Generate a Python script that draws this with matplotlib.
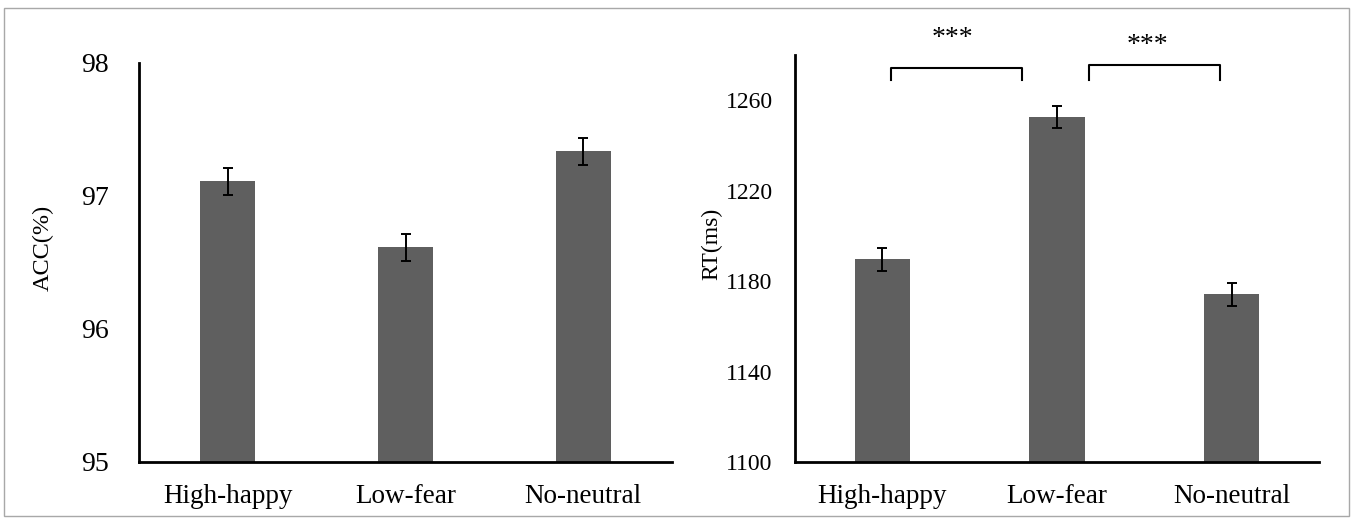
import matplotlib
matplotlib.use("Agg")
import matplotlib.pyplot as plt
from matplotlib.patches import Rectangle

plt.rcParams['font.family'] = ['Liberation Serif', 'DejaVu Serif']

conditions = ['High-happy', 'Low-fear', 'No-neutral']

acc_mean = [97.11, 96.615, 97.335]
acc_err = [0.10, 0.10, 0.10]

rt_mean = [1189.7, 1252.6, 1174.1]
rt_err = [5.1, 5.0, 5.1]

# significance brackets on the RT panel: (x_start, x_end, y_top, y_leg, star_x, star_y)
sig_pairs = [(0.05, 0.80, 1274.1, 1268.8, 0.40, 1287.5),
             (1.185, 1.935, 1275.5, 1268.8, 1.52, 1284.0)]
sig_label = '***'

BAR_COLOR = '#5f5f5f'
W, H = 1353, 519

fig = plt.figure(figsize=(W / 100, H / 100), dpi=100)

# thin grey frame around the whole figure
fig.patches.append(Rectangle((4 / W, 1 - 516 / H), 1345 / W, 508 / H,
                             transform=fig.transFigure, fill=False,
                             edgecolor='#a8a8a8', linewidth=1.0))


def px_axes(x0, y0, x1, y1):
    """Add an axes given pixel box (left, top, right, bottom)."""
    return fig.add_axes([x0 / W, 1 - y1 / H, (x1 - x0) / W, (y1 - y0) / H])


def style(ax, ypad, ysize):
    for side in ('top', 'right'):
        ax.spines[side].set_visible(False)
    for side in ('left', 'bottom'):
        ax.spines[side].set_linewidth(2.0)
        ax.spines[side].set_color('black')
    ax.tick_params(axis='both', length=0)
    ax.tick_params(axis='y', pad=ypad, labelsize=ysize)
    ax.tick_params(axis='x', pad=16, labelsize=19.5)
    ax.set_xlim(-0.5, 2.5)
    ax.set_xticks(range(len(conditions)))
    ax.set_xticklabels(conditions)


x = list(range(len(conditions)))

# accuracy panel
ax1 = px_axes(139, 63, 672, 462)
ax1.bar(x, acc_mean, width=0.31, color=BAR_COLOR,
        yerr=acc_err, error_kw=dict(ecolor='black', elinewidth=1.4,
                                    capsize=3.3, capthick=1.4))
ax1.set_ylim(95, 98)
ax1.set_yticks([95, 96, 97, 98])
style(ax1, ypad=22, ysize=20)
fig.text(43 / W, 1 - 248 / H, 'ACC(%)', rotation=90, ha='center',
         va='center', fontsize=17.5)

# reaction time panel
ax2 = px_axes(795, 55, 1319, 462)
ax2.bar(x, rt_mean, width=0.315, color=BAR_COLOR,
        yerr=rt_err, error_kw=dict(ecolor='black', elinewidth=1.4,
                                   capsize=3.3, capthick=1.4))
ax2.set_ylim(1100, 1280)
ax2.set_yticks([1100, 1140, 1180, 1220, 1260])
style(ax2, ypad=16, ysize=17)
fig.text(712 / W, 1 - 244 / H, 'RT(ms)', rotation=90, ha='center',
         va='center', fontsize=17)

for xs, xe, yt, yl, sx, sy in sig_pairs:
    ax2.plot([xs, xs, xe, xe], [yl, yt, yt, yl], color='black',
             linewidth=1.5, clip_on=False)
    ax2.text(sx, sy, sig_label, ha='center', va='center', fontsize=20,
             clip_on=False)

fig.savefig('out.png', dpi=100)
